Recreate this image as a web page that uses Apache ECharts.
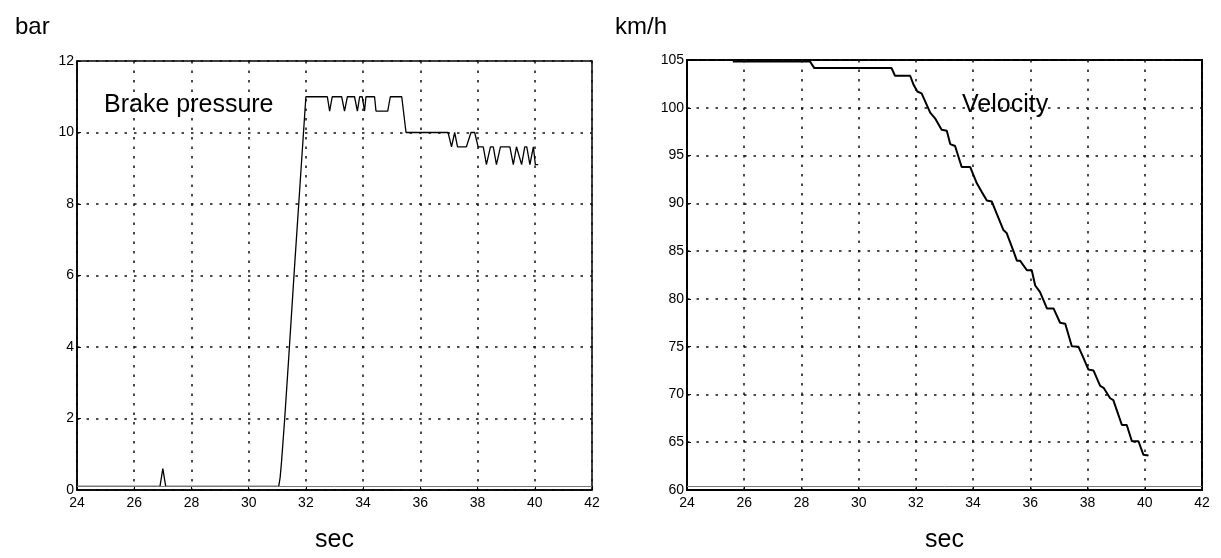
<!DOCTYPE html>
<html><head><meta charset="utf-8">
<script src="https://cdn.jsdelivr.net/npm/echarts@6/dist/echarts.min.js"></script>
<style>html,body{margin:0;padding:0;background:#fff}#c{width:1221px;height:558px}</style>
</head><body><div id="c"></div>
<script>
// Brake pressure (bar) vs time (sec)
const pressureTime = [24.0, 26.9, 27.0, 27.1, 31.05, 31.1, 31.15, 31.2, 31.26, 31.4, 31.6, 31.8, 32.0,
  32.75, 32.83, 32.92, 33.25, 33.35, 33.45, 33.7, 33.8, 33.88, 33.97, 34.05, 34.1, 34.4, 34.45, 34.86, 34.95, 35.35, 35.5,
  36.97, 37.09, 37.2, 37.3, 37.61, 37.77, 37.9, 38.02, 38.2, 38.31, 38.45, 38.55, 38.66, 38.8, 39.13, 39.25, 39.36,
  39.54, 39.65, 39.72, 39.83, 39.95, 40.02, 40.12];
const pressureValue = [0.1, 0.1, 0.6, 0.1, 0.1, 0.35, 0.8, 1.35, 2.0, 3.7, 6.2, 8.6, 11.0,
  11.0, 10.6, 11.0, 11.0, 10.6, 11.0, 11.0, 10.6, 11.0, 11.0, 10.6, 11.0, 11.0, 10.6, 10.6, 11.0, 11.0, 10.0,
  10.0, 9.6, 10.0, 9.6, 9.6, 10.0, 10.0, 9.6, 9.6, 9.1, 9.6, 9.6, 9.1, 9.6, 9.6, 9.1, 9.6,
  9.1, 9.6, 9.6, 9.1, 9.6, 9.1, 9.1];
// Velocity (km/h) vs time (sec)
const velocityTime = [25.6, 28.3, 28.45, 31.15, 31.27, 31.8, 31.92, 32.05, 32.2, 32.5, 32.67, 32.9, 33.08, 33.2,
  33.37, 33.6, 33.9, 34.13, 34.3, 34.48, 34.65, 35.06, 35.17, 35.41, 35.53, 35.64, 35.88, 36.05, 36.17, 36.34,
  36.58, 36.81, 37.04, 37.22, 37.45, 37.68, 37.86, 38.03, 38.21, 38.44, 38.56, 38.79, 38.9, 39.2, 39.37, 39.55,
  39.78, 39.95, 40.13];
const velocityValue = [104.85, 104.85, 104.15, 104.15, 103.35, 103.35, 102.4, 101.7, 101.5, 99.5, 98.9, 97.7, 97.6, 96.2,
  96.0, 93.8, 93.8, 92.1, 91.2, 90.3, 90.2, 87.2, 86.9, 85.0, 84.0, 84.0, 83.0, 83.0, 81.4, 80.7,
  79.0, 79.0, 77.5, 77.4, 75.05, 75.0, 73.8, 72.6, 72.5, 70.9, 70.7, 69.6, 69.4, 66.8, 66.8, 65.1,
  65.1, 63.7, 63.6];
const xTicks = [24, 26, 28, 30, 32, 34, 36, 38, 40, 42];
const pressureTicks = [0, 2, 4, 6, 8, 10, 12];
const velocityTicks = [60, 65, 70, 75, 80, 85, 90, 95, 100, 105];

const FONT = '"Liberation Sans", Arial, Helvetica, sans-serif';
const zip = (a, b) => a.map((v, i) => [v, b[i]]);
const dotted = { color: '#111', width: 1.5, type: [2.5, 7] };

function xAxis(gi) {
  return {
    gridIndex: gi, type: 'value', min: xTicks[0], max: xTicks[xTicks.length - 1], interval: 2,
    name: 'sec', nameLocation: 'middle', nameGap: 38,
    nameTextStyle: { fontFamily: FONT, fontSize: 25, color: '#000' },
    axisLine: { show: true, lineStyle: { color: '#000', width: 1.5 } },
    axisTick: { show: true, inside: true, length: 4, lineStyle: { color: '#000' } },
    axisLabel: { fontFamily: FONT, fontSize: 14, color: '#000', margin: 6 },
    splitLine: { show: true, lineStyle: dotted }
  };
}
function yAxis(gi, ticks, interval) {
  return {
    gridIndex: gi, type: 'value', min: ticks[0], max: ticks[ticks.length - 1], interval: interval,
    axisLine: { show: true, lineStyle: { color: '#000', width: 1.5 } },
    axisTick: { show: true, inside: true, length: 4, lineStyle: { color: '#000' } },
    axisLabel: { fontFamily: FONT, fontSize: 14, color: '#000', margin: 3 },
    splitLine: { show: true, lineStyle: dotted }
  };
}

const chart = echarts.init(document.getElementById('c'), null, { renderer: 'canvas' });
chart.setOption({
  backgroundColor: '#fff',
  animation: false,
  title: [
    { text: 'bar', left: 10, top: 10, textStyle: { fontFamily: FONT, fontSize: 24, fontWeight: 'normal', color: '#000' } },
    { text: 'km/h', left: 610, top: 10, textStyle: { fontFamily: FONT, fontSize: 24, fontWeight: 'normal', color: '#000' } },
    { text: 'Brake pressure', left: 99, top: 88, textStyle: { fontFamily: FONT, fontSize: 25, fontWeight: 'normal', color: '#000' } },
    { text: 'Velocity', left: 957, top: 88, textStyle: { fontFamily: FONT, fontSize: 25, fontWeight: 'normal', color: '#000' } }
  ],
  grid: [
    { left: 77, right: 629, top: 61, bottom: 61, show: true, borderColor: '#000', borderWidth: 1.5, backgroundColor: 'transparent' },
    { left: 687, right: 19, top: 60, bottom: 61, show: true, borderColor: '#000', borderWidth: 2, backgroundColor: 'transparent' }
  ],
  xAxis: [xAxis(0), xAxis(1)],
  yAxis: [yAxis(0, pressureTicks, 2), yAxis(1, velocityTicks, 5)],
  series: [
    {
      type: 'line', xAxisIndex: 0, yAxisIndex: 0, data: zip(pressureTime, pressureValue),
      symbol: 'none', lineStyle: { color: '#000', width: 1.3 },
      markLine: { silent: true, symbol: 'none', label: { show: false },
        lineStyle: { color: '#777', width: 1, type: 'solid' }, data: [{ yAxis: 0.1 }] }
    },
    {
      type: 'line', xAxisIndex: 1, yAxisIndex: 1, data: zip(velocityTime, velocityValue),
      symbol: 'none', lineStyle: { color: '#000', width: 2 },
      markLine: { silent: true, symbol: 'none', label: { show: false },
        lineStyle: { color: '#777', width: 1, type: 'solid' }, data: [{ yAxis: 60.35 }] }
    }
  ]
});
</script></body></html>
